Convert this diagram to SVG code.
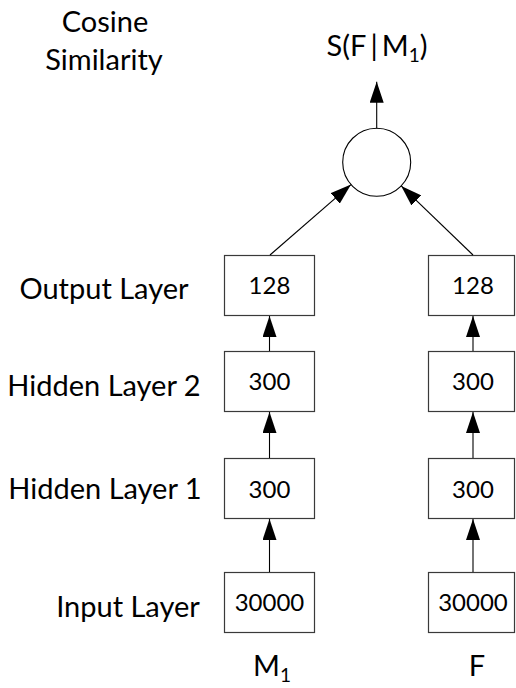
<svg xmlns="http://www.w3.org/2000/svg" width="516" height="688" viewBox="0 0 516 688">
  <style>
    .box { fill: #ffffff; stroke: #3a3a3a; stroke-width: 1.2; }
    .lbl { font-family: Lato, "Liberation Sans", sans-serif; font-size: 29px; fill: #000; text-anchor: middle; }
    .num { font-family: Lato, "Liberation Sans", sans-serif; font-size: 24px; fill: #000; text-anchor: middle; }
    .edge { stroke: #000; stroke-width: 1.1; fill: none; marker-end: url(#arrow); }
  </style>
  <defs>
    <marker id="arrow" markerUnits="userSpaceOnUse" markerWidth="22" markerHeight="14" refX="21" refY="7" orient="auto">
      <path d="M0,0 L21,7 L0,14 z" fill="#000"/>
    </marker>
  </defs>
  <rect width="516" height="688" fill="#ffffff"/>

  <!-- row labels -->
  <g id="row-labels">
    <text class="lbl" x="105" y="32">Cosine</text>
    <text class="lbl" x="104" y="70">Similarity</text>
    <text class="lbl" x="104" y="299">Output Layer</text>
    <text class="lbl" x="104" y="396">Hidden Layer 2</text>
    <text class="lbl" x="105" y="499">Hidden Layer 1</text>
    <text class="lbl" x="128" y="617">Input Layer</text>
  </g>

  <!-- left tower (M1) -->
  <g id="m-output"><rect class="box" x="224.5" y="255.5" width="90" height="60"/><text class="num" x="269.5" y="294">128</text></g>
  <g id="m-hidden2"><rect class="box" x="224.5" y="351.5" width="90" height="60"/><text class="num" x="269.5" y="390">300</text></g>
  <g id="m-hidden1"><rect class="box" x="224.5" y="458.5" width="90" height="60"/><text class="num" x="269.5" y="498">300</text></g>
  <g id="m-input"><rect class="box" x="224.5" y="572.5" width="90" height="60"/><text class="num" x="269.5" y="611">30000</text></g>
  <g id="m-caption"><text class="lbl" x="272" y="676">M<tspan font-size="19" dy="6">1</tspan></text></g>

  <!-- right tower (F) -->
  <g id="f-output"><rect class="box" x="428.5" y="255.5" width="86" height="60"/><text class="num" x="473" y="294">128</text></g>
  <g id="f-hidden2"><rect class="box" x="428.5" y="351.5" width="86" height="60"/><text class="num" x="473" y="390">300</text></g>
  <g id="f-hidden1"><rect class="box" x="428.5" y="458.5" width="86" height="60"/><text class="num" x="473" y="498">300</text></g>
  <g id="f-input"><rect class="box" x="428.5" y="572.5" width="86" height="60"/><text class="num" x="473" y="611">30000</text></g>
  <g id="f-caption"><text class="lbl" x="477" y="676">F</text></g>

  <!-- similarity node -->
  <g id="similarity"><circle cx="376.7" cy="162.3" r="34" fill="#fff" stroke="#000" stroke-width="1.1"/></g>
  <g id="score"><text class="lbl" x="377" y="56">S(F<tspan dx="4">|</tspan><tspan dx="4">M</tspan><tspan font-size="19" dy="6">1</tspan><tspan dy="-6">)</tspan></text></g>

  <!-- connectors -->
  <g id="connectors">
    <line class="edge" x1="269.5" y1="572" x2="269.5" y2="519"/>
    <line class="edge" x1="269.5" y1="458" x2="269.5" y2="412"/>
    <line class="edge" x1="269.5" y1="351" x2="269.5" y2="316"/>
    <line class="edge" x1="473" y1="572" x2="473" y2="519"/>
    <line class="edge" x1="473" y1="458" x2="473" y2="412"/>
    <line class="edge" x1="473" y1="351" x2="473" y2="316"/>
    <line class="edge" x1="270" y1="255" x2="351" y2="184.6"/>
    <line class="edge" x1="473" y1="255" x2="401.2" y2="185.9"/>
    <line class="edge" x1="376.7" y1="128.3" x2="376.7" y2="81.7"/>
  </g>
</svg>
